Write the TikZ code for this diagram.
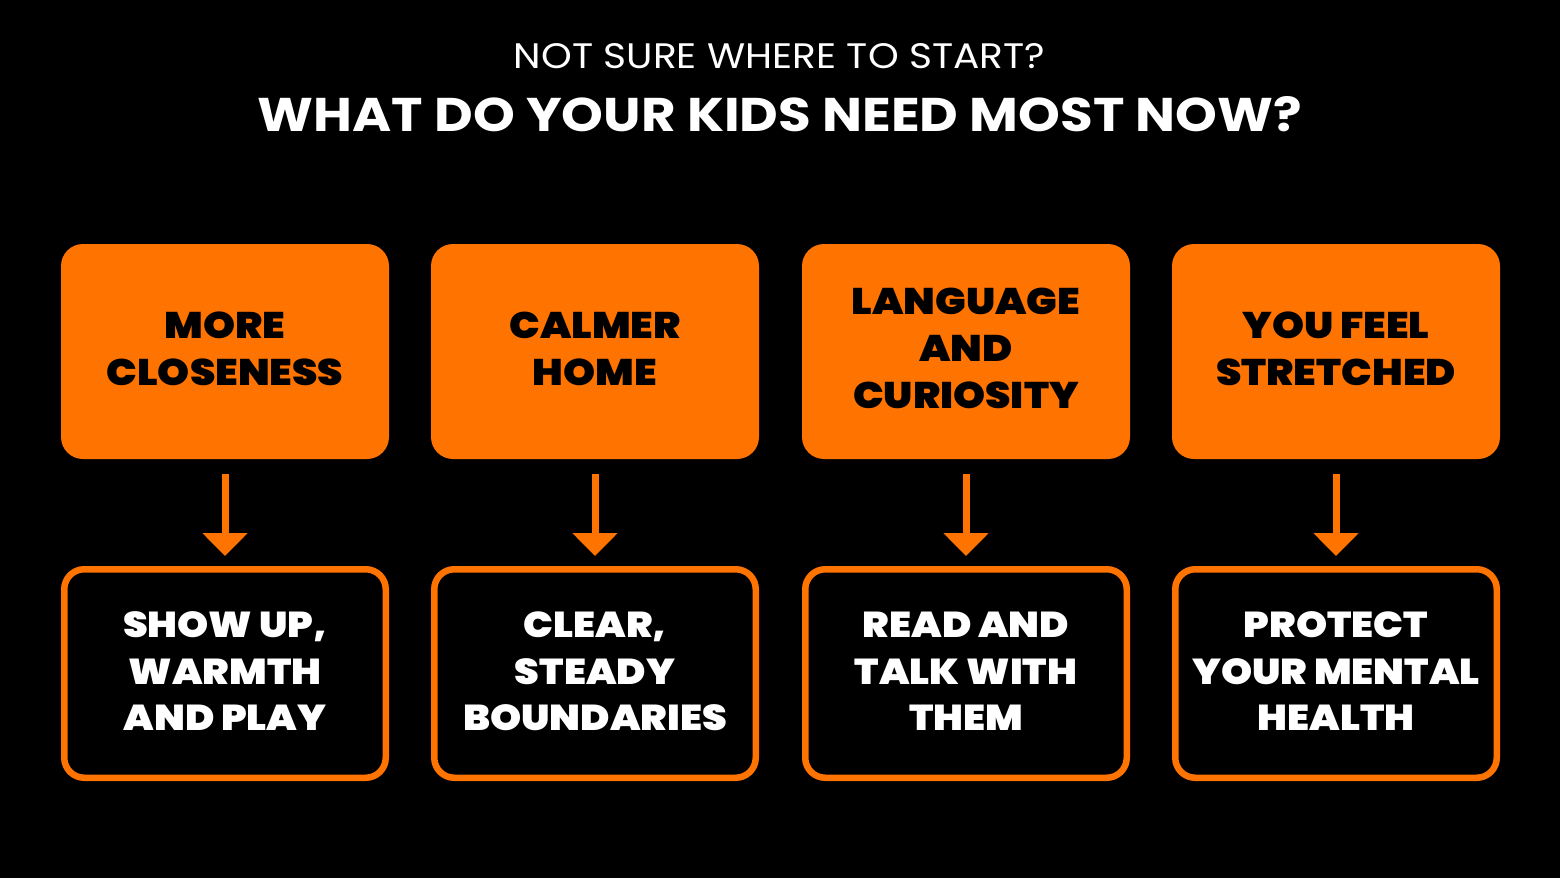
\documentclass[tikz,border=0pt]{standalone}
\usepackage{fontspec}
\setmainfont{Poppins}
\newfontfamily\heavy{Poppins Black}[FakeStretch=1.1]
\usetikzlibrary{arrows.meta}
\definecolor{kidorange}{HTML}{FF7300}
\tikzset{
  topbox/.style={fill=kidorange, rounded corners=22pt, minimum width=328pt, minimum height=215pt,
    inner sep=0pt},
  toptext/.style={inner sep=0pt, align=center, text=black, font={\heavy\fontsize{37}{47}\selectfont}},
  botbox/.style={draw=kidorange, line width=6.5pt, fill=black, rounded corners=20pt,
    minimum width=321.5pt, minimum height=208.5pt, inner sep=0pt},
  bottext/.style={inner sep=0pt, align=center, text=white, font={\heavy\fontsize{36}{46.5}\selectfont}},
  flowarrow/.style={draw=kidorange, line width=7pt, -{Triangle[length=23pt,width=44pt]}},
}
\begin{document}
\begin{tikzpicture}[x=1pt,y=-1pt]
\fill[black] (0,0) rectangle (1560,878);
\useasboundingbox (0,0) rectangle (1560,878);
\node[inner sep=0pt, anchor=south, text=white] (sub) at (779.5,69)
  {\resizebox{531pt}{25pt}{NOT SURE WHERE TO START?}};
\node[inner sep=0pt, anchor=south, text=white] (title) at (780,132)
  {\resizebox{1044pt}{35pt}{\bfseries WHAT DO YOUR KIDS NEED MOST NOW?}};

\node[topbox] (t1) at (225,351.5) {};
\node[topbox] (t2) at (595,351.5) {};
\node[topbox] (t3) at (966,351.5) {};
\node[topbox] (t4) at (1336,351.5) {};
\node[toptext] (t1l) at ([yshift=2.5pt]t1.center) {MORE\\CLOSENESS};
\node[toptext] (t2l) at ([yshift=2.5pt]t2.center) {CALMER\\HOME};
\node[toptext] (t3l) at ([yshift=3pt]t3.center) {LANGUAGE\\AND\\CURIOSITY};
\node[toptext] (t4l) at ([yshift=2.5pt]t4.center) {YOU FEEL\\STRETCHED};

\node[botbox] (b1) at (225,673.5) {};
\node[botbox] (b2) at (595,673.5) {};
\node[botbox] (b3) at (966,673.5) {};
\node[botbox] (b4) at (1336,673.5) {};
\node[bottext] (b1l) at ([yshift=2pt]b1.center) {SHOW UP,\\WARMTH\\AND PLAY};
\node[bottext] (b2l) at ([yshift=2pt]b2.center) {CLEAR,\\STEADY\\BOUNDARIES};
\node[bottext] (b3l) at ([yshift=2pt]b3.center) {READ AND\\TALK WITH\\THEM};
\node[bottext] (b4l) at ([yshift=2pt]b4.center) {PROTECT\\YOUR MENTAL\\HEALTH};

\foreach \i in {1,2,3,4}{
  \draw[flowarrow] ([yshift=-15pt]t\i.south) -- ([yshift=10pt]b\i.north);
}
\end{tikzpicture}
\end{document}
